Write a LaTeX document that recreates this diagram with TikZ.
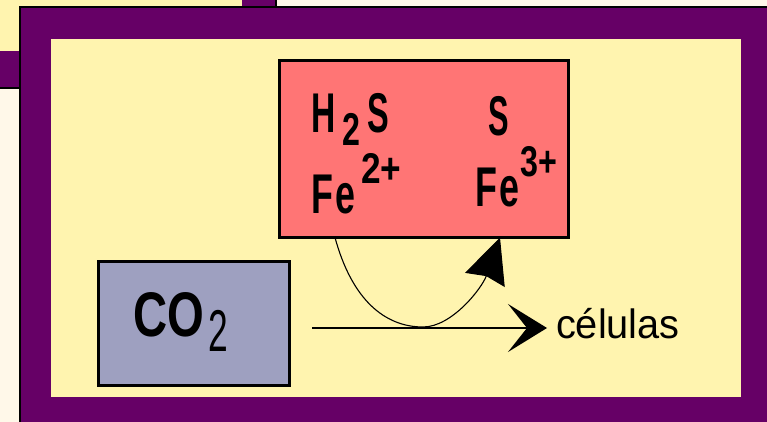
\documentclass[tikz,border=0pt]{standalone}
\usepackage{fontspec}
\setmainfont{Liberation Sans}
\usepackage{graphicx}
\usetikzlibrary{arrows.meta}

\definecolor{frame}{RGB}{102,0,102}
\definecolor{pale}{RGB}{255,244,175}
\definecolor{cream}{RGB}{255,248,233}
\definecolor{salmon}{RGB}{255,117,117}
\definecolor{slate}{RGB}{158,160,192}

\newcommand{\nar}[2]{\scalebox{#1}[1]{#2}}
\newcommand{\fs}[1]{\fontsize{#1}{#1}\selectfont}

\begin{document}
\begin{tikzpicture}[x=1pt,y=-1pt,
  chembox/.style={draw=black,line width=3pt,inner sep=0,outer sep=0},
  label/.style={anchor=base west,inner sep=0,outer sep=0},
  flow/.style={line width=2.5pt,-{Stealth[length=39pt,width=48pt,inset=19pt]}},
  redox/.style={line width=1.1pt,-{Stealth[length=45pt,width=42pt,inset=4pt]}}]
  \useasboundingbox (0,0) rectangle (767,422);
  \clip (0,0) rectangle (767,422);
  \fill[cream] (0,0) rectangle (767,422);

  % box behind, mostly hidden
  \filldraw[fill=frame,draw=black,line width=1.5pt] (-10,-10) rectangle (276,88);
  \fill[pale] (-10,-10) rectangle (242,51);

  % main frame
  \filldraw[fill=frame,draw=black,line width=2pt] (20,7.5) rectangle (790,450);
  \fill[pale] (51,39) rectangle (741,397);

  \node[chembox,fill=salmon,minimum width=289pt,minimum height=177pt] (R) at (424,149) {};
  \node[chembox,fill=slate,minimum width=191pt,minimum height=124pt] (C) at (194,323.5) {};

  % reduced side
  \node[label] (H2S) at (311,133) {\bfseries\fs{56}\nar{0.6}{H}\hspace{7pt}\raisebox{-13pt}{\fs{46}\nar{0.7}{2}}\hspace{7pt}\nar{0.58}{S}};
  \node[label] (FeL) at (311,213) {\bfseries\fs{56}\nar{0.64}{F\hspace{4pt}e}\hspace{6pt}\raisebox{30pt}{\fs{43}\nar{0.82}{2+}}};
  % oxidised side
  \node[label] (SR) at (488,136) {\bfseries\fs{56}\nar{0.55}{S}};
  \node[label] (FeR) at (475,206) {\bfseries\fs{56}\nar{0.64}{F\hspace{4pt}e}\hspace{1pt}\raisebox{30pt}{\fs{43}\nar{0.75}{3+}}};

  \node[label] (CO2) at (133,336) {\bfseries\fs{63}\nar{0.75}{CO}\hspace{5pt}\raisebox{-15pt}{\mdseries\fs{59}\nar{0.6}{2}}};
  \node[label] (cel) at (556,338) {\fs{41}\nar{0.97}{células}};

  \coordinate (A) at (312,328);
  \draw[flow,shorten >=9pt] (A) -- (A -| cel.west);

  \coordinate (P) at (335,0 |- R.south);
  \coordinate (Q) at (500,0 |- R.south);
  \draw[redox] (P) .. controls (352,300) and (385,327) .. (423,327)
    .. controls (452,327) and (482,288) .. (Q);
\end{tikzpicture}
\end{document}
